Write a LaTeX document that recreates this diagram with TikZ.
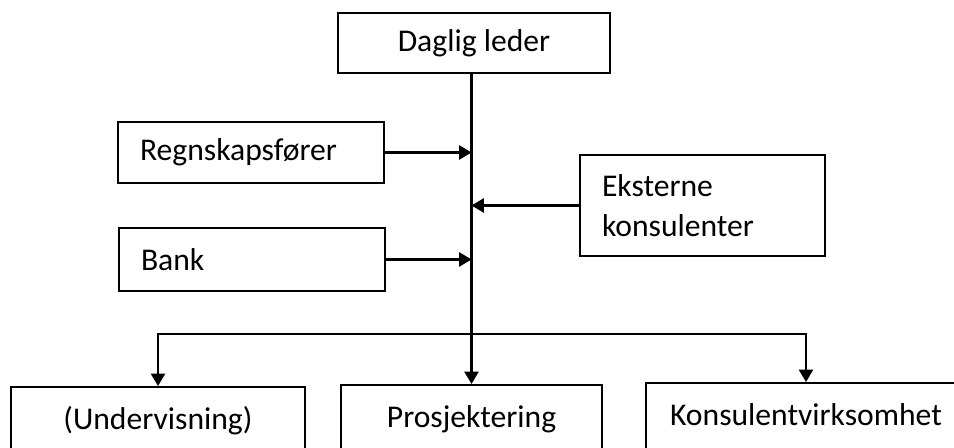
\documentclass[tikz,border=0pt]{standalone}
\usepackage{fontspec}
\setmainfont{Carlito}
\usetikzlibrary{arrows.meta}
\begin{document}
\begin{tikzpicture}[x=0.02cm, y=-0.02cm, line width=1.2pt,
  box/.style={draw, inner sep=0pt, font=\fontsize{18}{22.7}\selectfont},
  unit/.style={box, anchor=north, text height=0.84cm, text depth=1.5cm},
  >={Triangle[length=7pt,width=8pt]}]
\useasboundingbox (0,0) rectangle (954,448);
\clip (0,0) rectangle (954,448);
\node[box, minimum width=5.44cm, minimum height=1.2cm] (leder) at (474,43) {Daglig leder};
\node[box, minimum width=5.32cm, minimum height=1.22cm, text width=4.44cm, align=left] (regn) at (251,152.5) {Regnskapsfører};
\node[box, minimum width=5.32cm, minimum height=1.26cm, text width=4.44cm, align=left] (bank) at (252,259.5) {Bank};
\node[box, minimum width=4.9cm, minimum height=2.02cm, text width=4.02cm, align=left] (ekst) at (702.5,205.5) {Eksterne\\konsulenter};
\node[unit, minimum width=5.88cm] (underv) at (158,386) {(Undervisning)};
\node[unit, minimum width=5.22cm] (prosj) at (471.5,384) {Prosjektering};
\node[unit, minimum width=6.4cm] (kons) at (806,382) {Konsulentvirksomhet};
\draw[->] (leder.south -| prosj.north) -- (prosj.north);
\draw[->] (regn.east) -- (regn.east -| prosj.north);
\draw[->] (bank.east) -- (bank.east -| prosj.north);
\draw[->] (ekst.west) -- (ekst.west -| prosj.north);
\coordinate (split) at (471.5,334);
\draw[->] (split) -| (underv.north);
\draw[->] (split) -| (kons.north);
\end{tikzpicture}
\end{document}
